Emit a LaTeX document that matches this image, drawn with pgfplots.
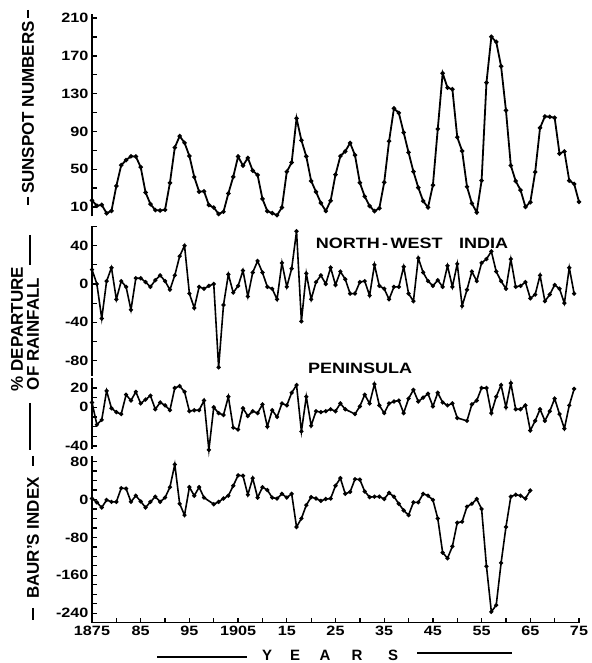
\documentclass[border=0pt]{standalone}
\usepackage{fontspec}
\setmainfont{Liberation Sans}
\newfontfamily\wide{Liberation Sans}[FakeStretch=1.2]
\usepackage{pgfplots}
\pgfplotsset{compat=1.18}

\pgfplotsset{
  panel/.style={
    scale only axis, width=487pt,
    xmin=1875, xmax=1975,
    axis y line*=left,
    axis line style={line width=1.5pt,-},
    tick align=inside, major tick length=5pt,
    every tick/.style={black, line width=1.3pt},
    ticklabel style={font=\wide\bfseries\fontsize{13.5}{14}\selectfont},
    /pgf/number format/assume math mode=true,
    clip=false,
  },
  series/.style={black, line width=1.6pt, mark=*, mark size=1.2pt},
}

\begin{document}
\begin{tikzpicture}[x=1pt,y=1pt]
\useasboundingbox (0,0) rectangle (591,663);

% sunspot numbers
\begin{axis}[panel, axis x line=none, at={(92pt,446.5pt)}, anchor=south west, height=202.2pt,
  ymin=0, ymax=214, ytick={10,30,...,210}, yticklabels={10,,50,,90,,130,,170,,210}]
\addplot[series, line width=1.8pt] coordinates {
(1875,17.1)(1876,11.3)(1877,12.3)(1878,3.4)(1879,6.0)(1880,32.3)(1881,54.3)(1882,59.7)(1883,63.7)(1884,63.5)
(1885,52.2)(1886,25.4)(1887,13.1)(1888,6.8)(1889,6.3)(1890,7.1)(1891,35.6)(1892,73.0)(1893,85.1)(1894,78.0)
(1895,64.0)(1896,41.8)(1897,26.2)(1898,26.7)(1899,12.1)(1900,9.5)(1901,2.7)(1902,5.0)(1903,24.4)(1904,42.0)
(1905,63.5)(1906,53.8)(1907,62.0)(1908,48.5)(1909,43.9)(1910,18.6)(1911,5.7)(1912,3.6)(1913,1.4)(1914,9.6)
(1915,47.4)(1916,57.1)(1917,103.9)(1918,80.6)(1919,63.6)(1920,37.6)(1921,26.1)(1922,14.2)(1923,5.8)(1924,16.7)
(1925,44.3)(1926,63.9)(1927,69.0)(1928,77.8)(1929,64.9)(1930,35.7)(1931,21.2)(1932,11.1)(1933,5.7)(1934,8.7)
(1935,36.1)(1936,79.7)(1937,114.4)(1938,109.6)(1939,88.8)(1940,67.8)(1941,47.5)(1942,30.6)(1943,16.3)(1944,9.6)
(1945,33.2)(1946,92.6)(1947,151.6)(1948,136.3)(1949,134.7)(1950,83.9)(1951,69.4)(1952,31.5)(1953,13.9)(1954,4.4)
(1955,38.0)(1956,141.7)(1957,190.2)(1958,184.8)(1959,159.0)(1960,112.3)(1961,53.9)(1962,37.5)(1963,27.9)(1964,10.2)
(1965,15.1)(1966,47.0)(1967,93.8)(1968,105.9)(1969,105.5)(1970,104.5)(1971,66.6)(1972,68.9)(1973,38.0)(1974,34.5)
(1975,15.5)};
\end{axis}

% north-west India
\begin{axis}[panel, axis x line=none, at={(92pt,287pt)}, anchor=south west, height=149.5pt,
  ymin=-96, ymax=60, ytick={-80,-60,...,60}, yticklabels={-80,,-40,,0,,40,}]
\addplot[series] coordinates {
(1875,15)(1876,0)(1877,-36)(1878,3)(1879,17)(1880,-16)(1881,3)(1882,-3)(1883,-27)(1884,6)
(1885,6)(1886,2)(1887,-3)(1888,4)(1889,9)(1890,3)(1891,-6)(1892,9)(1893,29)(1894,40)
(1895,-10)(1896,-25)(1897,-3)(1898,-5)(1899,-2)(1900,0)(1901,-87)(1902,-22)(1903,10)(1904,-9)
(1905,-2)(1906,14)(1907,-13)(1908,12)(1909,24)(1910,12)(1911,-3)(1912,-5)(1913,-16)(1914,22)
(1915,-3)(1916,16)(1917,55)(1918,-39)(1919,11)(1920,-16)(1921,2)(1922,9)(1923,0)(1924,17)
(1925,-1)(1926,13)(1927,5)(1928,-10)(1929,-10)(1930,2)(1931,3)(1932,-12)(1933,20)(1934,-2)
(1935,-5)(1936,-16)(1937,-3)(1938,-3)(1939,18)(1940,-10)(1941,-18)(1942,27)(1943,12)(1944,3)
(1945,-2)(1946,4)(1947,-3)(1948,19)(1949,-3)(1950,21)(1951,-23)(1952,-6)(1953,13)(1954,3)
(1955,22)(1956,26)(1957,34)(1958,13)(1959,3)(1960,-5)(1961,26)(1962,-3)(1963,-2)(1964,2)
(1965,-15)(1966,-11)(1967,9)(1968,-18)(1969,-11)(1970,-1)(1971,-5)(1972,-20)(1973,17)(1974,-10)};
\end{axis}

% peninsula
\begin{axis}[panel, axis x line=none, at={(92pt,214.1pt)}, anchor=south west, height=70.6pt,
  ymin=-43, ymax=30, ytick={-40,-30,...,20}, yticklabels={-40,,,,0,,20}]
\addplot[series] coordinates {
(1875,5)(1876,-18)(1877,-13)(1878,17)(1879,-1)(1880,-5)(1881,-7)(1882,13)(1883,7)(1884,16)
(1885,4)(1886,8)(1887,12)(1888,-2)(1889,5)(1890,2)(1891,-3)(1892,20)(1893,22)(1894,16)
(1895,-4)(1896,-3)(1897,-3)(1898,7)(1899,-44)(1900,0)(1901,-6)(1902,-8)(1903,11)(1904,-21)
(1905,-23)(1906,-1)(1907,-9)(1908,-4)(1909,-6)(1910,3)(1911,-20)(1912,-3)(1913,-10)(1914,4)
(1915,2)(1916,15)(1917,23)(1918,-25)(1919,11)(1920,-19)(1921,-4)(1922,-5)(1923,-4)(1924,-2)
(1925,-4)(1926,4)(1927,-2)(1929,-7)(1930,1)(1931,13)(1932,4)(1933,24)(1934,2)
(1935,-6)(1936,4)(1937,6)(1938,7)(1939,-6)(1940,9)(1941,18)(1942,6)(1943,10)(1944,14)
(1945,1)(1946,15)(1947,5)(1948,2)(1949,4)(1950,-11)(1952,-14)(1953,3)(1954,7)
(1955,20)(1956,20)(1957,-6)(1958,11)(1959,23)(1960,0)(1961,25)(1962,-2)(1963,-2)(1964,2)
(1965,-24)(1966,-14)(1967,-2)(1968,-14)(1969,-4)(1970,9)(1971,-7)(1972,-22)(1973,2)(1974,19)};
\end{axis}

% Baur's index
\begin{axis}[panel, at={(92pt,40.3pt)}, anchor=south west, height=166.8pt,
  axis x line*=bottom,
  ymin=-260, ymax=92, ytick={-240,-220,...,80}, yticklabels={-240,,,,-160,,,,-80,,,,0,,,,80},
  xtick={1875,1880,...,1975}, xticklabels={1875,,85,,95,,1905,,15,,25,,35,,45,,55,,65,,75}]
\addplot[series] coordinates {
(1875,2)(1876,-6)(1877,-17)(1878,-1)(1879,-5)(1880,-5)(1881,24)(1882,23)(1883,-5)(1884,8)
(1885,-4)(1886,-17)(1887,-5)(1888,6)(1889,-5)(1890,4)(1891,26)(1892,74)(1893,-9)(1894,-33)
(1895,26)(1896,8)(1897,26)(1898,4)(1900,-10)(1901,-5)(1902,2)(1903,8)(1904,29)
(1905,51)(1906,50)(1907,10)(1908,45)(1909,4)(1910,26)(1911,20)(1912,4)(1913,2)(1914,12)
(1915,4)(1916,12)(1917,-58)(1918,-40)(1919,-12)(1920,5)(1921,2)(1922,-3)(1923,1)(1924,2)
(1925,29)(1926,45)(1927,12)(1928,16)(1929,43)(1930,42)(1931,17)(1932,5)(1933,6)(1934,6)
(1935,1)(1936,14)(1937,6)(1938,-9)(1939,-23)(1940,-33)(1941,-6)(1942,-6)(1943,12)(1944,8)
(1945,-1)(1946,-40)(1947,-112)(1948,-124)(1949,-99)(1950,-49)(1951,-47)(1952,-15)(1953,-9)(1954,1)
(1955,-20)(1956,-141)(1957,-237)(1958,-223)(1959,-134)(1960,-58)(1961,6)(1962,10)(1963,8)(1964,2)
(1965,19)};
\end{axis}

% panel titles
\node[font=\wide\bfseries\fontsize{15}{15}\selectfont] at (412,420) {NORTH\,-\,WEST\hspace{1.1em}INDIA};
\node[font=\wide\bfseries\fontsize{15}{15}\selectfont] at (360,295) {PENINSULA};

% left labels
\begin{scope}[font=\bfseries\fontsize{17}{17}\selectfont, line width=2.6pt]
\node[rotate=90] at (28,555.5) {SUNSPOT NUMBERS};
\draw (28,653) -- (28,645);
\draw (28,466) -- (28,458);
\node[rotate=90] at (17,334) {\%\ DEPARTURE};
\node[rotate=90] at (33,329) {OF RAINFALL};
\draw (30,428) -- (30,398);
\draw (30,260) -- (30,213);
\node[rotate=90] at (33,125) {BAUR'S INDEX};
\draw (33,207) -- (33,197);
\draw (33,55) -- (33,43);
\end{scope}

% years
\begin{scope}[font=\bfseries\fontsize{15}{15}\selectfont]
\foreach \xx/\ll in {267/Y,295/E,325/A,357/R,393/S}
  \node[inner sep=0pt] at (\xx,8) {\ll};
\draw[line width=2.4pt] (157,6) -- (247,6);
\draw[line width=2.4pt] (417,10) -- (512,10);
\end{scope}
\end{tikzpicture}
\end{document}
